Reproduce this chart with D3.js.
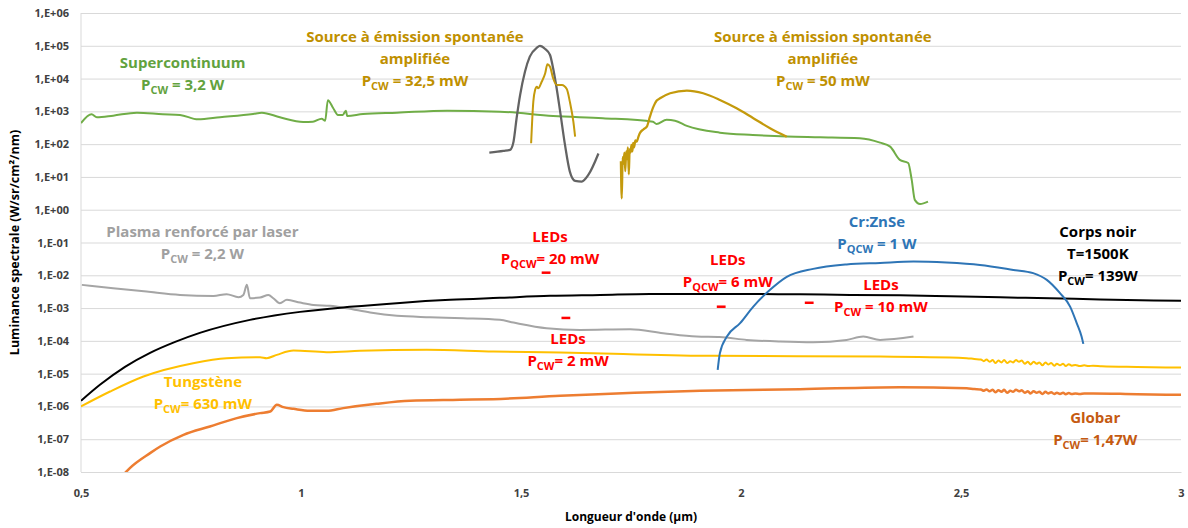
<!DOCTYPE html>
<html><head><meta charset="utf-8">
<script src="https://cdn.jsdelivr.net/npm/d3@7"></script>
<style>
body{margin:0;background:#fff;}
svg text{font-family:"Open Sans",Lato,sans-serif;font-weight:700;}
</style>
</head><body><svg id="c" width="1188" height="528"></svg>
<script>
// ---------- data (x in µm, y in W/sr/cm²/nm) ----------
const xTicks = [0.5, 1, 1.5, 2, 2.5, 3];
const yTicks = [1e6,1e5,1e4,1e3,1e2,1e1,1e0,1e-1,1e-2,1e-3,1e-4,1e-5,1e-6,1e-7,1e-8];

const supercontinuum = [[0.500,4.4e2],[0.524,8.2e2],[0.536,6.6e2],[0.573,7.4e2],[0.627,9.1e2],[0.686,8.2e2],[0.725,7.8e2],[0.766,5.7e2],[0.816,6.6e2],[0.891,8.3e2],[0.911,9.1e2],[0.952,6.6e2],[1.005,4.75e2],[1.027,4.85e2],[1.047,6.0e2],[1.055,5.2e2],[1.061,2.2e3],[1.073,1.27e3],[1.084,7.8e2],[1.095,7.8e2],[1.102,1.05e3],[1.105,7.2e2],[1.141,8.3e2],[1.218,9.1e2],[1.332,1.05e3],[1.452,9.8e2],[1.573,7.2e2],[1.686,6.2e2],[1.800,4.85e2],[1.808,4.1e2],[1.831,5.5e2],[1.850,5.2e2],[1.877,3.6e2],[1.952,2.24e2],[2.027,1.9e2],[2.104,1.7e2],[2.180,1.62e2],[2.270,1.51e2],[2.316,1.11e2],[2.339,84],[2.361,33],[2.380,26.7],[2.388,8.1],[2.395,2.0],[2.407,1.5],[2.425,1.77]];

const aseGray = [[1.428,55],[1.460,62],[1.475,67],[1.483,119],[1.490,617],[1.498,3.16e3],[1.509,1.62e4],[1.520,4.66e4],[1.536,8.75e4],[1.543,9.9e4],[1.555,7.98e4],[1.566,5.25e4],[1.573,2.06e4],[1.581,5.06e3],[1.589,980],[1.600,94.6],[1.611,14.5],[1.623,7.55],[1.638,7.2],[1.653,11.5],[1.676,52]];

const ase1 = [[1.523,106],[1.528,1.98e3],[1.532,4.5e3],[1.536,5.66e3],[1.539,5.06e3],[1.547,8.0e3],[1.555,1.45e4],[1.560,2.73e4],[1.566,2.3e4],[1.573,1.02e4],[1.581,6.4e3],[1.593,6.4e3],[1.604,4.8e3],[1.611,1.98e3],[1.619,485],[1.623,169]];

const ase2 = [[1.727,30],[1.729,2.2],[1.731,40],[1.733,25],[1.735,55],[1.737,15],[1.739,60],[1.741,35],[1.743,80],[1.745,12],[1.747,70],[1.749,55],[1.751,95],[1.753,60],[1.755,110],[1.757,80],[1.760,130],[1.763,120],[1.767,170],[1.770,215],[1.778,280],[1.786,342],[1.793,689],[1.801,1.39e3],[1.808,2.1e3],[1.816,2.5e3],[1.839,3.56e3],[1.877,4.28e3],[1.914,3.56e3],[1.952,2.23e3],[1.990,1.24e3],[2.028,617],[2.066,305],[2.104,169]];

const plasma = [[0.502,5.1e-3],[0.573,4.05e-3],[0.649,3.18e-3],[0.725,2.52e-3],[0.801,2.35e-3],[0.831,2.65e-3],[0.858,2.15e-3],[0.869,2.52e-3],[0.877,5.1e-3],[0.884,2.0e-3],[0.907,2.09e-3],[0.926,2.52e-3],[0.937,2.0e-3],[0.952,1.41e-3],[0.968,1.78e-3],[0.998,1.47e-3],[1.028,1.25e-3],[1.066,1.17e-3],[1.104,9.9e-4],[1.157,7.3e-4],[1.218,5.8e-4],[1.293,5.28e-4],[1.369,4.92e-4],[1.452,4.37e-4],[1.483,3.61e-4],[1.558,2.44e-4],[1.634,2.16e-4],[1.748,2.27e-4],[1.823,1.72e-4],[1.899,1.35e-4],[1.952,1.3e-4],[2.013,1.07e-4],[2.089,9.5e-5],[2.164,9.0e-5],[2.240,1.07e-4],[2.278,1.35e-4],[2.316,1.07e-4],[2.392,1.35e-4]];

const blackbody = [[0.500,1.48e-6],[0.543,4.56e-6],[0.600,1.61e-5],[0.657,4.3e-5],[0.714,9.3e-5],[0.770,1.75e-4],[0.884,4.37e-4],[0.998,7.66e-4],[1.111,1.09e-3],[1.225,1.44e-3],[1.339,1.78e-3],[1.452,2.05e-3],[1.566,2.36e-3],[1.680,2.52e-3],[1.793,2.71e-3],[1.907,2.71e-3],[2.020,2.71e-3],[2.134,2.62e-3],[2.248,2.52e-3],[2.361,2.44e-3],[2.475,2.28e-3],[2.589,2.12e-3],[2.702,1.98e-3],[2.816,1.84e-3],[3.000,1.66e-3]];

const tungsten = [[0.500,1.0e-6],[0.566,2.85e-6],[0.642,8.2e-6],[0.755,2.09e-5],[0.831,2.97e-5],[0.907,3.18e-5],[0.922,2.97e-5],[0.945,3.74e-5],[0.983,5.06e-5],[1.058,4.52e-5],[1.134,4.95e-5],[1.286,5.32e-5],[1.437,4.72e-5],[1.589,4.4e-5],[1.710,4.02e-5],[1.937,3.49e-5],[2.316,3.32e-5],[2.513,2.97e-5],[2.530,2.8e-5],[2.545,2.7e-5],[2.552,2.4e-5],[2.558,2.7e-5],[2.565,2.3e-5],[2.572,2.6e-5],[2.578,2.1e-5],[2.585,2.5e-5],[2.592,2.2e-5],[2.598,2.6e-5],[2.605,2.1e-5],[2.612,2.4e-5],[2.618,2.2e-5],[2.625,2.6e-5],[2.632,2.3e-5],[2.638,2.5e-5],[2.645,2.0e-5],[2.652,2.3e-5],[2.658,1.9e-5],[2.665,2.3e-5],[2.672,2.0e-5],[2.678,2.2e-5],[2.685,1.8e-5],[2.692,2.2e-5],[2.698,1.9e-5],[2.705,2.1e-5],[2.712,1.75e-5],[2.718,2.0e-5],[2.725,1.8e-5],[2.732,2.0e-5],[2.738,1.7e-5],[2.745,1.95e-5],[2.752,1.75e-5],[2.760,1.85e-5],[2.770,1.7e-5],[2.780,1.8e-5],[2.790,1.7e-5],[2.800,1.75e-5],[2.820,1.68e-5],[2.900,1.6e-5],[3.000,1.53e-5]];

const globar = [[0.590,6.7e-9],[0.596,8.2e-9],[0.611,1.32e-8],[0.657,3.77e-8],[0.680,5.99e-8],[0.733,1.36e-7],[0.793,2.44e-7],[0.854,4.4e-7],[0.907,6.25e-7],[0.930,7.0e-7],[0.945,1.12e-6],[0.960,9.5e-7],[0.983,8.45e-7],[1.020,7.35e-7],[1.058,7.35e-7],[1.096,8.87e-7],[1.172,1.2e-6],[1.248,1.48e-6],[1.361,1.59e-6],[1.437,1.67e-6],[1.589,2.1e-6],[1.907,2.99e-6],[2.134,3.37e-6],[2.361,3.87e-6],[2.513,3.6e-6],[2.530,3.4e-6],[2.545,3.3e-6],[2.552,3.0e-6],[2.558,3.3e-6],[2.565,2.9e-6],[2.572,3.2e-6],[2.578,2.7e-6],[2.585,3.1e-6],[2.592,2.8e-6],[2.598,3.2e-6],[2.605,2.6e-6],[2.612,3.0e-6],[2.618,2.8e-6],[2.625,3.2e-6],[2.632,2.9e-6],[2.638,3.1e-6],[2.645,2.6e-6],[2.652,2.9e-6],[2.658,2.5e-6],[2.665,2.9e-6],[2.672,2.6e-6],[2.678,2.8e-6],[2.685,2.4e-6],[2.692,2.8e-6],[2.698,2.5e-6],[2.705,2.7e-6],[2.712,2.4e-6],[2.718,2.6e-6],[2.725,2.4e-6],[2.732,2.6e-6],[2.738,2.35e-6],[2.745,2.55e-6],[2.752,2.4e-6],[2.760,2.5e-6],[2.770,2.4e-6],[2.780,2.5e-6],[2.800,2.5e-6],[2.900,2.35e-6],[3.000,2.26e-6]];

const crZnSe = [[1.947,1.31e-5],[1.952,4.2e-5],[1.968,1.35e-4],[1.998,3.47e-4],[2.028,1.11e-3],[2.066,3.59e-3],[2.104,8.93e-3],[2.164,1.57e-2],[2.240,2.15e-2],[2.316,2.39e-2],[2.392,2.62e-2],[2.467,2.44e-2],[2.543,2.07e-2],[2.619,1.46e-2],[2.664,1.16e-2],[2.695,7.24e-3],[2.725,2.85e-3],[2.748,1.11e-3],[2.763,3.47e-4],[2.774,1.35e-4],[2.778,8.1e-5]];

// LED spectra shown as short segments: [start µm, end µm, value]
const leds = [[1.547,1.567,1.2e-2],[1.592,1.612,5.0e-4],[1.945,1.965,1.1e-3],[2.145,2.165,1.45e-3]];

// annotation texts ("_{..}" = subscript); anchor x (µm), first baseline value
const labels = [
  {lines:["Supercontinuum","P_{CW} = 3,2 W"], x:0.731, y:2.1e4, color:"#62A23E"},
  {lines:["Source à émission spontanée","amplifiée","P_{CW} = 32,5 mW"], x:1.259, y:1.3e5, color:"#BF9000"},
  {lines:["Source à émission spontanée","amplifiée","P_{CW} = 50 mW"], x:2.186, y:1.3e5, color:"#BF9000"},
  {lines:["Plasma renforcé par laser","P_{CW} = 2,2 W"], x:0.776, y:0.148, color:"#A0A0A0"},
  {lines:["LEDs","P_{QCW}= 20 mW"], x:1.566, y:0.104, color:"#FF0000"},
  {lines:["LEDs","P_{CW}= 2 mW"], x:1.607, y:8.1e-5, color:"#FF0000"},
  {lines:["LEDs","P_{QCW}= 6 mW"], x:1.970, y:2.07e-2, color:"#FF0000"},
  {lines:["LEDs","P_{CW} = 10 mW"], x:2.318, y:3.6e-3, color:"#FF0000"},
  {lines:["Cr:ZnSe","P_{QCW} = 1 W"], x:2.309, y:0.305, color:"#2E75B6"},
  {lines:["Corps noir","T=1500K","P_{CW}= 139W"], x:2.811, y:0.148, color:"#000000"},
  {lines:["Tungstène","P_{CW}= 630 mW"], x:0.777, y:3.96e-6, color:"#FFC000"},
  {lines:["Globar","P_{CW}= 1,47W"], x:2.805, y:3.2e-7, color:"#C55A11"}
];

// ---------- chart ----------
const svg = d3.select("#c");
const L = 81, R = 1181, T = 13, B = 472;
const x = d3.scaleLinear().domain([0.5, 3]).range([L, R]);
const y = d3.scaleLog().domain([1e-8, 1e6]).range([B, T]);
const loc = d3.formatLocale({decimal:",", thousands:" ", grouping:[3], currency:["","€"]});
const fx = loc.format("~g");
const fy = v => { const e = Math.round(Math.log10(v)); return "1,E" + (e < 0 ? "-" : "+") + String(Math.abs(e)).padStart(2, "0"); };

// y gridlines + labels
const gy = svg.append("g").attr("transform", `translate(${L},0)`)
  .call(d3.axisLeft(y).tickValues(yTicks).tickFormat(fy).tickSize(-(R - L)).tickPadding(12));
gy.select(".domain").remove();
gy.selectAll(".tick line").attr("stroke", "#D9D9D9").attr("stroke-width", 1);
gy.selectAll(".tick text").attr("fill", "#404040").style("font-size", "11px");

// x axis
const gx = svg.append("g").attr("transform", `translate(0,${B})`)
  .call(d3.axisBottom(x).tickValues(xTicks).tickFormat(fx).tickSize(0).tickPadding(17));
gx.select(".domain").attr("stroke", "#D9D9D9");
gx.selectAll(".tick text").attr("fill", "#404040").style("font-size", "11px");
svg.append("line").attr("x1", L).attr("x2", L).attr("y1", T).attr("y2", B).attr("stroke", "#D9D9D9");

// titles
svg.append("text").attr("x", (L + R) / 2).attr("y", 521).attr("text-anchor", "middle")
  .attr("fill", "#000").style("font-size", "12px").text("Longueur d'onde (µm)");
svg.append("text").attr("transform", `translate(19,${(T + B) / 2}) rotate(-90)`).attr("text-anchor", "middle")
  .attr("fill", "#000").style("font-size", "12.5px").text("Luminance spectrale (W/sr/cm²/nm)");

// clip
svg.append("clipPath").attr("id", "clip").append("rect").attr("x", L).attr("y", T).attr("width", R - L).attr("height", B - T);
const plot = svg.append("g").attr("clip-path", "url(#clip)");
const line = d3.line().x(d => x(d[0])).y(d => y(d[1])).curve(d3.curveMonotoneX);
const series = [
  [plasma, "#A5A5A5", 2],
  [tungsten, "#FFC000", 2],
  [globar, "#ED7D31", 2.5],
  [blackbody, "#000000", 2],
  [crZnSe, "#2E75B6", 2],
  [supercontinuum, "#70AD47", 2],
  [aseGray, "#636363", 2.25],
  [ase1, "#C49A0C", 2],
  [ase2, "#C49A0C", 2.25]
];
series.forEach(([d, c, w]) => plot.append("path").datum(d).attr("d", line)
  .attr("fill", "none").attr("stroke", c).attr("stroke-width", w).attr("stroke-linejoin", "round"));
plot.selectAll(".led").data(leds).join("line").attr("class", "led")
  .attr("x1", d => x(d[0])).attr("x2", d => x(d[1])).attr("y1", d => y(d[2])).attr("y2", d => y(d[2]))
  .attr("stroke", "#FF0000").attr("stroke-width", 2.5);

// annotations
const LH = 22;
labels.forEach(a => {
  const t = svg.append("text").attr("text-anchor", "middle").attr("fill", a.color).style("font-size", "15px");
  a.lines.forEach((ln, i) => {
    const parts = ln.split(/(_\{[^}]*\})/).filter(s => s.length);
    let first = true, sub = false;
    parts.forEach(p => {
      const ts = t.append("tspan");
      if (first) { ts.attr("x", x(a.x)).attr("y", y(a.y) + i * LH); first = false; }
      if (p.startsWith("_{")) {
        ts.text(p.slice(2, -1)).style("font-size", "11px").attr("dy", 4); sub = true;
      } else {
        ts.text(p); if (sub) { ts.attr("dy", -4); sub = false; }
      }
    });
  });
});
</script></body></html>
